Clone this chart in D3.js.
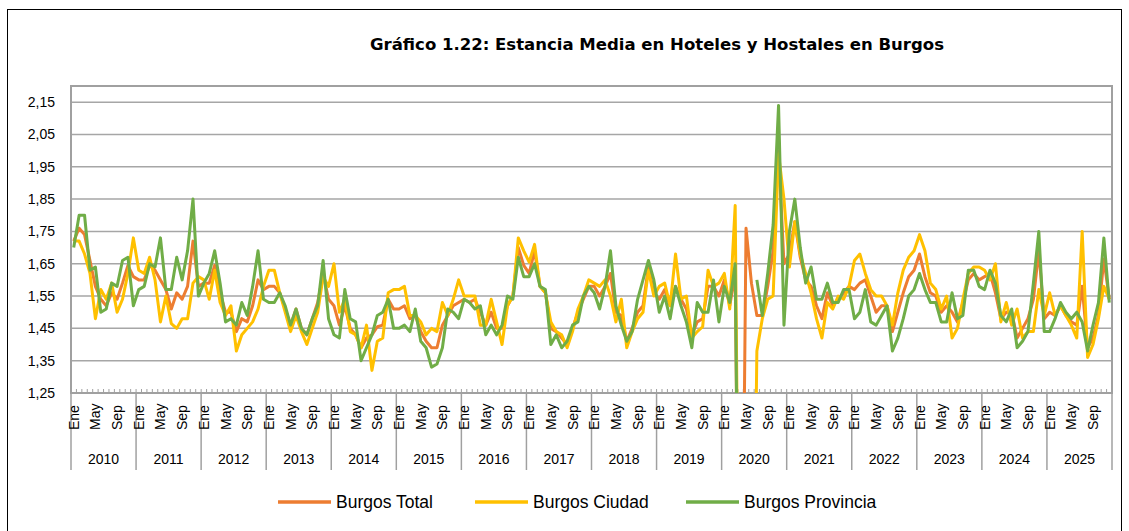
<!DOCTYPE html>
<html><head><meta charset="utf-8">
<script src="https://cdn.jsdelivr.net/npm/d3@7"></script>
<style>
body{margin:0;background:#fff;}
svg{display:block;}
text{font-family:"Liberation Sans",Arial,sans-serif;fill:#000;}
</style>
</head><body>
<svg id="c" width="1129" height="531"></svg>
<script>
const title = "Gráfico 1.22: Estancia Media en Hoteles y Hostales en Burgos";
const years = [2010,2011,2012,2013,2014,2015,2016,2017,2018,2019,2020,2021,2022,2023,2024,2025];
const monthNames = ["Ene","Feb","Mar","Abr","May","Jun","Jul","Ago","Sep","Oct","Nov","Dic"];
const shownMonths = ["Ene","May","Sep"];
const yTicks = [1.25,1.35,1.45,1.55,1.65,1.75,1.85,1.95,2.05,2.15];
const seriesNames = ["Burgos Total","Burgos Ciudad","Burgos Provincia"];

const burgosTotal = [
1.72,1.76,1.74,1.66,1.58,1.54,1.52,1.56,1.54,1.59,1.645,1.61,
1.60,1.60,1.645,1.63,1.60,1.57,1.51,1.56,1.54,1.58,1.72,1.58,
1.59,1.59,1.645,1.56,1.50,1.50,1.44,1.48,1.47,1.52,1.60,1.57,
1.58,1.58,1.56,1.51,1.46,1.51,1.45,1.43,1.48,1.53,1.62,1.54,
1.52,1.46,1.52,1.45,1.43,1.39,1.42,1.43,1.455,1.46,1.54,1.51,
1.51,1.52,1.48,1.49,1.44,1.41,1.39,1.39,1.46,1.49,1.52,1.53,
1.54,1.53,1.54,1.50,1.46,1.50,1.45,1.45,1.52,1.55,1.70,1.645,
1.62,1.69,1.58,1.56,1.45,1.44,1.42,1.40,1.45,1.50,1.54,1.58,
1.58,1.55,1.58,1.62,1.50,1.49,1.41,1.45,1.50,1.52,1.64,1.56,
1.54,1.57,1.52,1.58,1.54,1.51,1.43,1.47,1.48,1.58,1.58,1.55,
1.60,1.52,1.62,0,1.76,1.59,1.49,1.49,1.58,1.69,2.00,1.65,
1.68,1.78,1.67,1.60,1.58,1.52,1.48,1.56,1.52,1.54,1.56,1.58,
1.57,1.59,1.60,1.55,1.50,1.52,1.52,1.44,1.50,1.56,1.61,1.63,
1.68,1.61,1.56,1.55,1.50,1.52,1.50,1.47,1.53,1.60,1.62,1.60,
1.61,1.62,1.56,1.48,1.50,1.50,1.42,1.45,1.48,1.54,1.69,1.48,
1.50,1.49,1.52,1.49,1.47,1.46,1.58,1.39,1.42,1.49,1.665,1.54];

const burgosCiudad = [
1.72,1.72,1.68,1.62,1.48,1.57,1.54,1.59,1.50,1.54,1.62,1.73,
1.63,1.62,1.67,1.60,1.47,1.55,1.465,1.45,1.48,1.48,1.59,1.61,
1.60,1.54,1.63,1.53,1.49,1.52,1.38,1.43,1.45,1.47,1.51,1.58,
1.63,1.63,1.56,1.50,1.44,1.49,1.44,1.40,1.45,1.50,1.61,1.58,
1.65,1.50,1.54,1.44,1.43,1.39,1.46,1.32,1.41,1.42,1.56,1.57,
1.57,1.58,1.49,1.49,1.47,1.43,1.45,1.44,1.53,1.49,1.54,1.60,
1.55,1.55,1.55,1.46,1.46,1.54,1.47,1.40,1.52,1.55,1.73,1.69,
1.655,1.71,1.58,1.56,1.47,1.44,1.43,1.39,1.44,1.51,1.55,1.60,
1.59,1.58,1.60,1.55,1.47,1.54,1.39,1.44,1.48,1.50,1.63,1.55,
1.58,1.59,1.52,1.68,1.54,1.55,1.42,1.44,1.455,1.63,1.58,1.59,
1.62,1.51,1.83,0,0,0,1.38,1.48,1.54,1.55,1.99,1.85,
1.64,1.78,1.68,1.62,1.56,1.48,1.42,1.53,1.51,1.55,1.54,1.58,
1.66,1.68,1.62,1.57,1.55,1.55,1.52,1.46,1.56,1.63,1.67,1.69,
1.74,1.69,1.59,1.57,1.51,1.55,1.42,1.45,1.54,1.62,1.64,1.64,
1.63,1.60,1.65,1.47,1.53,1.46,1.51,1.42,1.44,1.44,1.57,1.49,
1.56,1.49,1.52,1.49,1.46,1.42,1.75,1.36,1.40,1.48,1.58,1.54];

const burgosProvincia = [
1.70,1.80,1.80,1.63,1.64,1.50,1.51,1.59,1.58,1.66,1.67,1.52,
1.57,1.58,1.65,1.64,1.73,1.57,1.57,1.67,1.60,1.69,1.85,1.55,
1.59,1.62,1.69,1.59,1.47,1.48,1.46,1.53,1.49,1.58,1.69,1.54,
1.53,1.53,1.56,1.52,1.46,1.51,1.45,1.43,1.48,1.52,1.66,1.48,
1.43,1.42,1.57,1.48,1.47,1.35,1.39,1.43,1.49,1.50,1.54,1.45,
1.45,1.46,1.44,1.51,1.41,1.39,1.33,1.34,1.39,1.51,1.50,1.48,
1.54,1.53,1.51,1.52,1.43,1.46,1.43,1.46,1.55,1.54,1.67,1.61,
1.61,1.65,1.58,1.57,1.40,1.43,1.39,1.41,1.46,1.47,1.55,1.58,
1.56,1.51,1.58,1.69,1.52,1.46,1.41,1.44,1.54,1.60,1.66,1.60,
1.50,1.55,1.48,1.58,1.52,1.47,1.39,1.53,1.50,1.50,1.60,1.47,
1.58,1.53,1.65,0,null,null,1.60,1.49,1.62,1.77,2.14,1.46,
1.75,1.85,1.70,1.59,1.64,1.54,1.54,1.59,1.53,1.53,1.57,1.57,
1.48,1.50,1.57,1.47,1.46,1.49,1.52,1.38,1.42,1.48,1.55,1.57,
1.62,1.57,1.53,1.53,1.47,1.47,1.56,1.48,1.49,1.63,1.63,1.58,
1.57,1.63,1.59,1.49,1.47,1.51,1.39,1.41,1.44,1.59,1.75,1.44,
1.44,1.48,1.53,1.50,1.48,1.50,1.47,1.38,1.46,1.53,1.73,1.53];

const seriesColors = ["#ED7D31","#FFC000","#70AD47"];
const seriesData = [burgosTotal, burgosCiudad, burgosProvincia];

const svg = d3.select("#c");
const W = 1129, H = 531;
const L = 71, R = 1112, T = 86, B = 393;

// outer frame
svg.append("rect").attr("x",7.5).attr("y",9.5).attr("width",1114).attr("height",540)
  .attr("fill","none").attr("stroke","#000").attr("stroke-width",1);

// title
const tt = svg.append("text").attr("x",657).attr("y",50).attr("text-anchor","middle")
  .style("font-family","'DejaVu Sans',Verdana,sans-serif").style("font-weight","bold")
  .style("font-size","15px").text(title);
const tw = tt.node().getComputedTextLength();
tt.style("font-size",(15*574/tw).toFixed(2)+"px");

const cats = d3.range(years.length*12);
const x = d3.scaleBand().domain(cats).range([L,R]).padding(0);
const y = d3.scaleLinear().domain([1.25,2.20]).range([B,T]);
const cx = i => x(i) + x.bandwidth()/2;

const fmt = d3.formatLocale({decimal:",",thousands:".",grouping:[3],currency:["","€"]}).format(".2f");

// gridlines
svg.append("g").selectAll("line").data(yTicks.filter(v=>v>1.25)).join("line")
  .attr("x1",L).attr("x2",R).attr("y1",d=>y(d)).attr("y2",d=>y(d))
  .attr("stroke","#a6a6a6").attr("stroke-width",1.5);

// y axis labels
const yAxis = d3.axisLeft(y).tickValues(yTicks).tickFormat(fmt).tickSize(0).tickPadding(16);
const gy = svg.append("g").attr("transform",`translate(${L},0)`).call(yAxis);
gy.select(".domain").remove();
gy.selectAll("text").style("font-size","14px").style("font-family","'Liberation Sans',Arial,sans-serif");

// plot border
svg.append("rect").attr("x",L).attr("y",T).attr("width",R-L).attr("height",B-T)
  .attr("fill","none").attr("stroke","#a0a0a0").attr("stroke-width",2);

// minor month ticks
svg.append("g").selectAll("line").data(d3.range(cats.length+1)).join("line")
  .attr("x1",i=>L+i*x.step()).attr("x2",i=>L+i*x.step())
  .attr("y1",B).attr("y2",B-4).attr("stroke","#a0a0a0").attr("stroke-width",1);

// year separators
svg.append("g").selectAll("line").data(d3.range(years.length+1)).join("line")
  .attr("x1",k=>L+k*12*x.step()).attr("x2",k=>L+k*12*x.step())
  .attr("y1",B).attr("y2",470).attr("stroke","#a0a0a0").attr("stroke-width",1.5);

// month labels
const monthLabels = cats.filter(i=>shownMonths.includes(monthNames[i%12]));
svg.append("g").selectAll("text").data(monthLabels).join("text")
  .attr("transform",i=>`translate(${cx(i)+5},430) rotate(-90)`)
  .attr("text-anchor","start").style("font-size","14px")
  .text(i=>monthNames[i%12]);

// year labels
svg.append("g").selectAll("text").data(years).join("text")
  .attr("x",(d,k)=>L+(k+0.5)*12*x.step()).attr("y",464).attr("text-anchor","middle")
  .style("font-size","14px").text(d=>d);

// clip
svg.append("clipPath").attr("id","clip").append("rect")
  .attr("x",L).attr("y",T).attr("width",R-L).attr("height",B-T);

const line = d3.line().defined(d=>d!=null).x((d,i)=>cx(i)).y(d=>y(d));
const gl = svg.append("g").attr("clip-path","url(#clip)");
seriesData.forEach((s,k)=>{
  gl.append("path").datum(s).attr("d",line).attr("fill","none")
    .attr("stroke",seriesColors[k]).attr("stroke-width",3)
    .attr("stroke-linejoin","round").attr("stroke-linecap","butt");
});

// legend
const legendX = [278,475,686];
seriesNames.forEach((n,k)=>{
  const g = svg.append("g").attr("transform",`translate(${legendX[k]},502)`);
  g.append("line").attr("x1",0).attr("x2",53).attr("y1",0).attr("y2",0)
    .attr("stroke",seriesColors[k]).attr("stroke-width",3.5);
  g.append("text").attr("x",58).attr("y",6).style("font-size","17.5px").text(n);
});
</script>
</body></html>
